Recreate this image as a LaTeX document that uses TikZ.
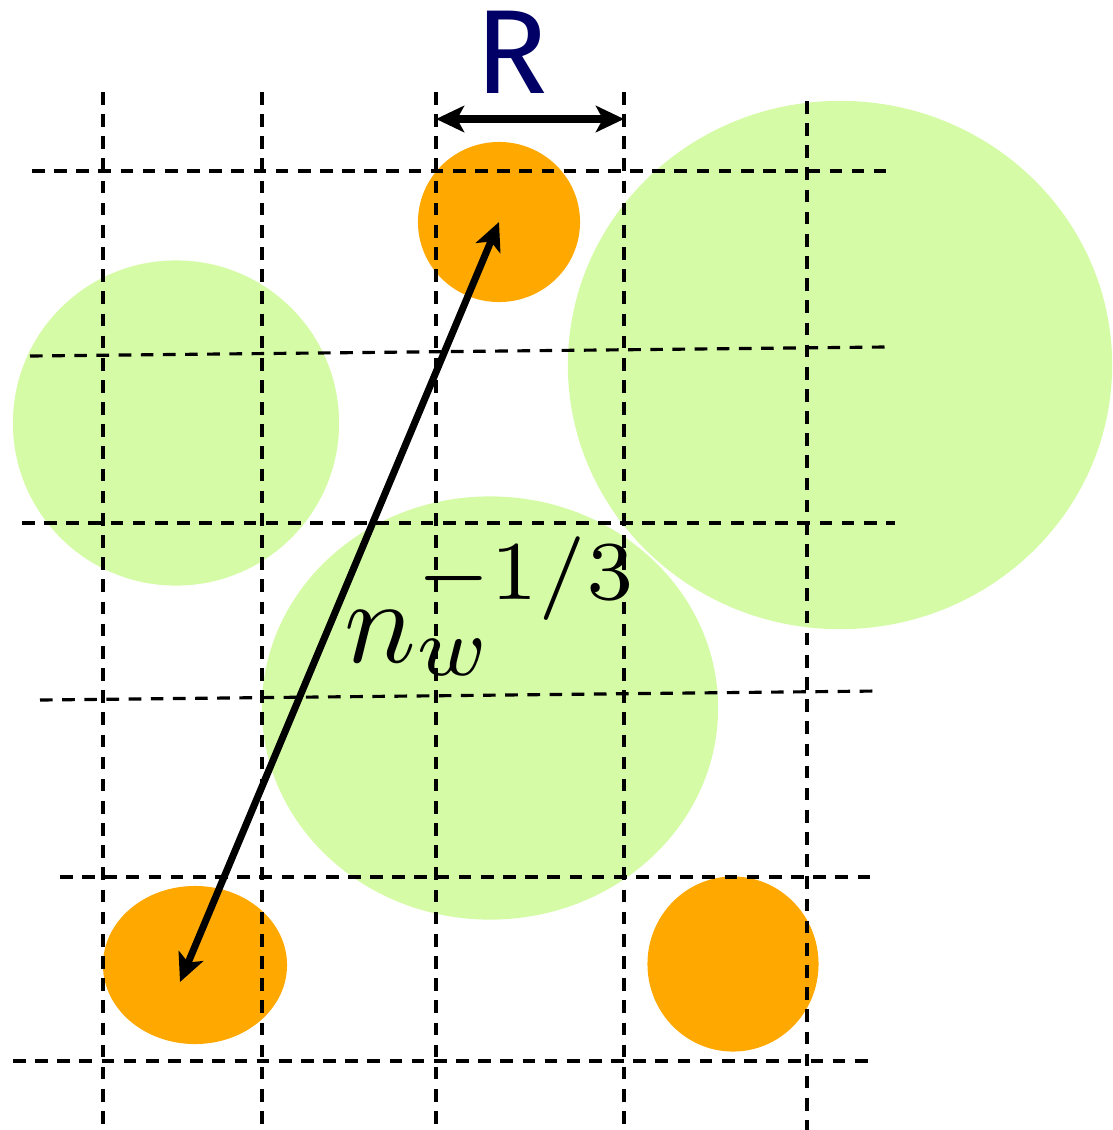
\documentclass[tikz,border=0pt]{standalone}
\usepackage{fontspec}
\newfontfamily\rfont{Fira Sans}
\usetikzlibrary{shapes.geometric,arrows.meta}

\definecolor{dropcol}{RGB}{255,168,0}
\definecolor{blobcol}{RGB}{213,251,166}
\definecolor{rnavy}{RGB}{0,0,102}

\tikzset{
  greenblob/.style={ellipse,fill=blobcol,inner sep=0pt},
  orangedrop/.style={ellipse,fill=dropcol,inner sep=0pt},
  gridline/.style={line width=0.9pt,dash pattern=on 3.6pt off 2.7pt},
  dimarrow/.style={{Stealth[length=8pt,width=7.5pt,inset=2pt]}-{Stealth[length=8pt,width=7.5pt,inset=2pt]},line width=2pt}
}

\begin{document}
\begin{tikzpicture}[x=0.01cm,y=-0.01cm]
   \useasboundingbox (0,0) rectangle (1113,1130);
   % clusters
   \node[greenblob,minimum width=3.26cm,minimum height=3.25cm] (gA) at (176,423) {};
   \node[greenblob,minimum width=5.44cm,minimum height=5.28cm] (gB) at (840,365) {};
   \node[greenblob,minimum width=4.56cm,minimum height=4.23cm] (gC) at (490,708) {};
   % drops
   \node[orangedrop,minimum width=1.62cm,minimum height=1.60cm] (oA) at (499,222) {};
   \node[orangedrop,minimum width=1.84cm,minimum height=1.58cm] (oB) at (195,965) {};
   \node[orangedrop,minimum width=1.71cm,minimum height=1.75cm] (oC) at (733,964) {};
   % grid
   \draw[gridline] (103,92) -- (103,1125);
   \draw[gridline] (262,92) -- (262,1125);
   \draw[gridline] (436,92) -- (436,1125);
   \draw[gridline] (624,92) -- (624,1125);
   \draw[gridline] (807,101) -- (807,1130);
   \draw[gridline] (32,171) -- (886,171);
   \draw[gridline] (30,356) -- (886,347);
   \draw[gridline] (22,523) -- (895,523);
   \draw[gridline] (40,700) -- (878,691);
   \draw[gridline] (60,877) -- (878,877);
   \draw[gridline] (13,1061) -- (876,1061);
   % cell size
   \coordinate (rL) at (436,119);
   \coordinate (rR) at (624,119);
   \draw[dimarrow] (rL) -- (rR);
   \node[anchor=base,text=rnavy,font=\rfont\fontsize{34}{38}\selectfont] (rlab) at (512,93) {R};
   % drop spacing
   \coordinate (tipB) at (180,982);
   \draw[dimarrow] (oA.center) -- (tipB);
   \node[anchor=base west,inner sep=0pt,scale=3.4] (nlab) at (342,662) {$n_w^{-1/3}$};
\end{tikzpicture}
\end{document}
